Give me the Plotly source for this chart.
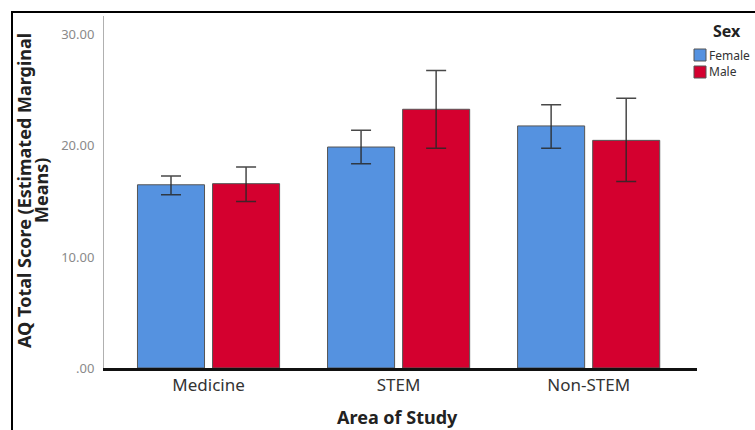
import plotly.graph_objects as go

categories = ["Medicine", "STEM", "Non-STEM"]
female_means = [16.5, 19.9, 21.8]
female_upper = [17.3, 21.4, 23.7]
female_lower = [15.6, 18.4, 19.8]
male_means = [16.6, 23.3, 20.5]
male_upper = [18.1, 26.8, 24.3]
male_lower = [15.0, 19.8, 16.8]
y_tickvals = [0, 10, 20, 30]
y_ticktext = [".00", "10.00", "20.00", "30.00"]

FEMALE_COLOR = "#5592e0"
MALE_COLOR = "#d4002f"
FONT = "Noto Sans"

def err(means, upper, lower):
    return dict(
        type="data", symmetric=False,
        array=[u - m for u, m in zip(upper, means)],
        arrayminus=[m - l for m, l in zip(means, lower)],
        color="rgba(40,40,40,0.85)", thickness=1.5, width=10,
    )

fig = go.Figure()
fig.add_trace(go.Bar(
    name="Female", x=categories, y=female_means,
    marker=dict(color=FEMALE_COLOR, line=dict(color="#555555", width=1)),
    error_y=err(female_means, female_upper, female_lower),
))
fig.add_trace(go.Bar(
    name="Male", x=categories, y=male_means,
    marker=dict(color=MALE_COLOR, line=dict(color="#555555", width=1)),
    error_y=err(male_means, male_upper, male_lower),
))

W, H = 755, 430
L, R, T, B = 104, 58, 16, 62
pw, ph = W - L - R, H - T - B

def px(x):
    return (x - L) / pw

def py(y):
    return (H - B - y) / ph

fig.update_layout(
    width=W, height=H,
    margin=dict(l=L, r=R, t=T, b=B, pad=0),
    paper_bgcolor="white", plot_bgcolor="white",
    barmode="group", bargap=0.21, bargroupgap=0.107,
    showlegend=False,
    font=dict(family=FONT, color="#333333"),
    xaxis=dict(
        range=[-0.55, 2.57], showline=True, linecolor="#111111", linewidth=3,
        showgrid=False, zeroline=False, ticks="",
        tickfont=dict(size=17, color="#333333", family=FONT),
        title=None,
    ),
    yaxis=dict(
        range=[0, 31.7], showline=True, linecolor="#b0b0b0", linewidth=1,
        showgrid=False, zeroline=False, ticks="",
        tickvals=y_tickvals, ticktext=y_ticktext,
        tickfont=dict(size=13, color="#8a8a8a", family=FONT),
        ticklabelstandoff=6,
        title=None,
    ),
)

# x-axis title
fig.add_annotation(
    text="<b>Area of Study</b>", xref="paper", yref="paper",
    x=px(397), y=py(417), xanchor="center", yanchor="middle", showarrow=False,
    font=dict(size=18, color="#222222", family=FONT),
)

# y-axis title (two lines)
for line, xc in [("AQ Total Score (Estimated Marginal", 24), ("Means)", 41)]:
    fig.add_annotation(
        text="<b>" + line + "</b>",
        xref="paper", yref="paper", x=px(xc), y=py(191),
        textangle=-90, showarrow=False, xanchor="center", yanchor="middle",
        font=dict(size=18, color="#222222", family=FONT),
    )

# outer frame (cropped image border)
fig.add_shape(type="rect", xref="paper", yref="paper",
              x0=px(12), x1=px(800), y0=py(480), y1=py(12),
              line=dict(color="black", width=2), fillcolor="rgba(0,0,0,0)")

# legend (manual)
fig.add_annotation(text="<b>Sex</b>", xref="paper", yref="paper",
                   x=px(711), y=py(31), xanchor="left", yanchor="middle",
                   showarrow=False, font=dict(size=16, color="#222222", family=FONT))
for name, color, yc in [("Female", FEMALE_COLOR, 55), ("Male", MALE_COLOR, 72)]:
    fig.add_shape(type="rect", xref="paper", yref="paper",
                  x0=px(694), x1=px(706), y0=py(yc + 6), y1=py(yc - 6),
                  line=dict(color="#555555", width=1), fillcolor=color)
    fig.add_annotation(text=name, xref="paper", yref="paper",
                       x=px(708), y=py(yc), xanchor="left", yanchor="middle",
                       showarrow=False, borderpad=0,
                       font=dict(size=12, color="#333333", family=FONT))

fig.write_html("out.html", config={"displayModeBar": False},
               post_script="document.body.style.margin='0';")
